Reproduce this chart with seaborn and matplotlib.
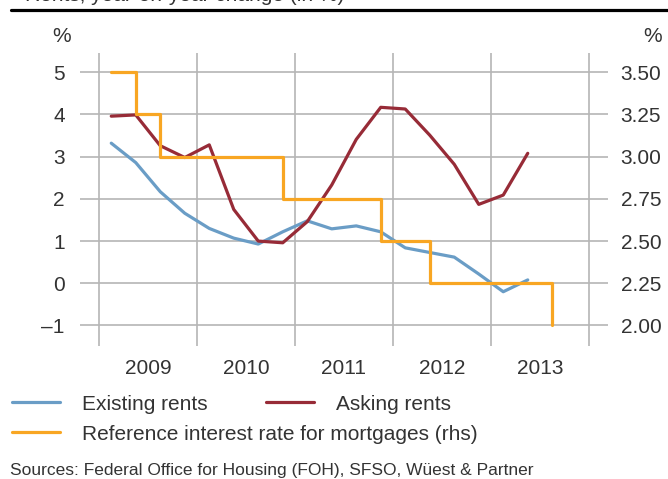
import matplotlib
matplotlib.use("Agg")
import matplotlib.pyplot as plt
import seaborn as sns
import pandas as pd
from matplotlib.lines import Line2D

# quarterly rent data, year-on-year change in %
quarters = ["2009Q1", "2009Q2", "2009Q3", "2009Q4",
            "2010Q1", "2010Q2", "2010Q3", "2010Q4",
            "2011Q1", "2011Q2", "2011Q3", "2011Q4",
            "2012Q1", "2012Q2", "2012Q3", "2012Q4",
            "2013Q1", "2013Q2"]
existing_rents = [3.32, 2.86, 2.17, 1.66, 1.30, 1.07, 0.93, 1.22, 1.48,
                  1.29, 1.36, 1.22, 0.84, 0.73, 0.62, 0.22, -0.20, 0.08]
asking_rents = [3.96, 3.99, 3.26, 2.98, 3.28, 1.75, 1.00, 0.96, 1.46,
                2.33, 3.41, 4.17, 4.13, 3.51, 2.82, 1.87, 2.09, 3.08]

# reference interest rate for mortgages (rhs), quarter of each change
ref_rate_quarters = ["2009Q1", "2009Q2", "2009Q3", "2010Q4", "2011Q4", "2012Q2", "2013Q3"]
ref_rate = [3.50, 3.25, 3.00, 2.75, 2.50, 2.25, 2.00]

years = [2009, 2010, 2011, 2012, 2013]
left_ticks = [-1, 0, 1, 2, 3, 4, 5]
right_ticks = [2.00, 2.25, 2.50, 2.75, 3.00, 3.25, 3.50]

BLUE = "#6a9dc6"
RED = "#972b37"
ORANGE = "#f8a623"
GRID = "#b5b5b5"
TEXT = "#333333"


def qpos(q):
    # middle of the quarter, as decimal year
    return int(q[:4]) + (int(q[-1]) - 0.5) / 4


sns.set_theme(style="white")
plt.rcParams["font.family"] = ["Liberation Sans", "DejaVu Sans"]
plt.rcParams["font.size"] = 15
plt.rcParams["text.color"] = TEXT
plt.rcParams["xtick.color"] = TEXT
plt.rcParams["ytick.color"] = TEXT

rents = pd.DataFrame({
    "x": [qpos(q) for q in quarters],
    "existing": existing_rents,
    "asking": asking_rents,
})
ref = pd.DataFrame({"x": [qpos(q) for q in ref_rate_quarters], "rate": ref_rate})

fig = plt.figure(figsize=(6.68, 4.79), dpi=100)
ax = fig.add_axes([80 / 668, 1 - 346 / 479, 528 / 668, 293 / 479])
ax2 = ax.twinx()

sns.lineplot(data=rents, x="x", y="existing", ax=ax, color=BLUE, lw=2.3, legend=False)
sns.lineplot(data=rents, x="x", y="asking", ax=ax, color=RED, lw=2.3, legend=False)
sns.lineplot(data=ref, x="x", y="rate", ax=ax2, color=ORANGE, lw=2.3,
             drawstyle="steps-post", legend=False)

ylo, yhi = -1.486, 5.457
ax.set_ylim(ylo, yhi)
ax2.set_ylim(2 + (ylo + 1) * 0.25, 2 + (yhi + 1) * 0.25)
ax.set_xlim(2008.806, 2014.194)

ax.set_xticks(years + [2014])
ax.set_xticklabels([])
ax.set_xticks([y + 0.5 for y in years], minor=True)
ax.set_xticklabels([str(y) for y in years], minor=True)
ax.set_yticks(left_ticks)
ax.set_yticklabels([str(t).replace("-", "\u2013") for t in left_ticks])
ax2.set_yticks(right_ticks)
ax2.set_yticklabels([f"{t:.2f}" for t in right_ticks])

ax.grid(axis="x", which="major", color=GRID, lw=1.2)
ax.grid(axis="y", which="major", color=GRID, lw=1.2)
ax2.grid(False)
ax.set_xlabel("")
ax.set_ylabel("")
ax2.set_ylabel("")
ax.tick_params(axis="x", which="both", length=0, pad=9, labelsize=15)
ax.tick_params(axis="y", length=0, pad=11, labelsize=15)
ax2.tick_params(axis="y", length=0, pad=9, labelsize=15)
for a in (ax, ax2):
    for s in a.spines.values():
        s.set_visible(False)

fig.text(62 / 668, 1 - 37 / 479, "%", ha="center", va="center", fontsize=15)
fig.text(653 / 668, 1 - 37 / 479, "%", ha="center", va="center", fontsize=15)

# title sits mostly above the visible crop, as in the source page
fig.text(25 / 668, 1 - 1 / 479, "Rents, year-on-year change (in %)",
         va="baseline", fontsize=15)
fig.add_artist(Line2D([11 / 668, 1], [1 - 9.5 / 479] * 2, color="black", lw=2.3))

h_exist = Line2D([], [], color=BLUE, lw=2.3)
h_ask = Line2D([], [], color=RED, lw=2.3)
h_ref = Line2D([], [], color=ORANGE, lw=2.3)
fig.legend([h_exist, h_ask], ["Existing rents", "Asking rents"], ncol=2,
           loc="center left", bbox_to_anchor=(12 / 668, 1 - 404 / 479),
           frameon=False, handlelength=2.3, handletextpad=1.05,
           columnspacing=2.8, borderpad=0, borderaxespad=0, fontsize=15)
fig.legend([h_ref], ["Reference interest rate for mortgages (rhs)"],
           loc="center left", bbox_to_anchor=(12 / 668, 1 - 434 / 479),
           frameon=False, handlelength=2.3, handletextpad=1.05,
           borderpad=0, borderaxespad=0, fontsize=15)

fig.text(10 / 668, 1 - 470 / 479,
         "Sources: Federal Office for Housing (FOH), SFSO, Wüest & Partner",
         va="center", fontsize=12.5)

fig.savefig("out.png", dpi=100)
